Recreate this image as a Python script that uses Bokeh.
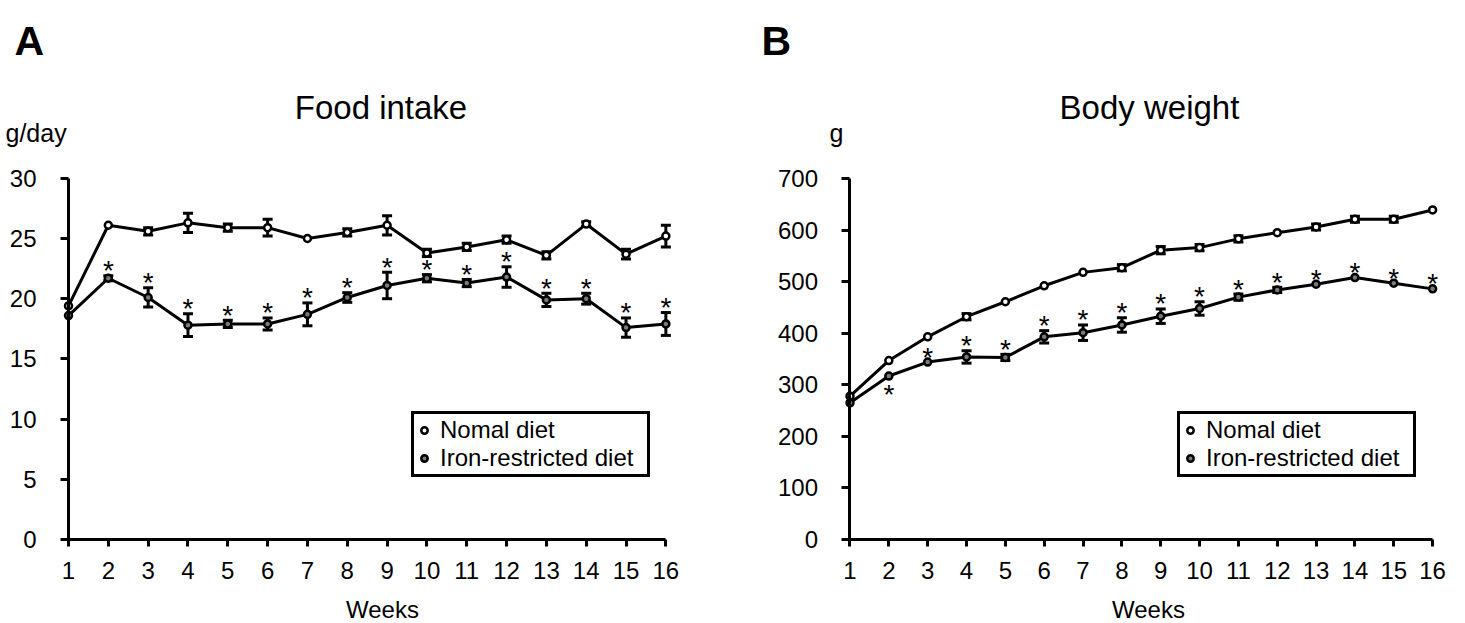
from bokeh.plotting import figure
from bokeh.models import (ColumnDataSource, Whisker, TeeHead, Legend, LegendItem,
                          Label, FixedTicker, Range1d)
from bokeh.layouts import row
from bokeh.embed import file_html
from bokeh.resources import INLINE
from bokeh.core.properties import value

FONT = "Liberation Sans"

# ---------------- data ----------------
weeks = list(range(1, 17))

# Panel A: food intake (g/day)
food_normal = [19.4, 26.1, 25.6, 26.3, 25.9, 25.9, 25.0, 25.5, 26.1, 23.8, 24.3, 24.9, 23.6, 26.2, 23.7, 25.2]
food_normal_err = [0, 0, 0.3, 0.8, 0.3, 0.7, 0, 0.3, 0.8, 0.3, 0.3, 0.3, 0.3, 0.2, 0.4, 0.9]
food_iron = [18.6, 21.7, 20.1, 17.8, 17.9, 17.9, 18.7, 20.1, 21.1, 21.7, 21.3, 21.8, 19.9, 20.0, 17.6, 17.9]
food_iron_err = [0, 0.2, 0.8, 0.95, 0.3, 0.5, 0.95, 0.4, 1.1, 0.3, 0.3, 0.85, 0.55, 0.45, 0.8, 0.95]
food_sig_above = list(range(2, 17))
food_sig_below = []
food_yticks = [0, 5, 10, 15, 20, 25, 30]

# Panel B: body weight (g)
bw_normal = [278, 347, 393, 432, 461, 492, 518, 527, 561, 566, 583, 595, 606, 621, 621, 639]
bw_normal_err = [0, 0, 0, 6, 0, 0, 0, 6, 7, 6, 6, 0, 6, 6, 6, 0]
bw_iron = [265, 317, 344, 354, 353, 393, 401, 416, 433, 448, 470, 484, 495, 508, 497, 486]
bw_iron_err = [0, 0, 0, 12, 6, 12, 15, 14, 14, 13, 6, 5, 0, 0, 0, 0]
bw_sig_above = list(range(3, 17))
bw_sig_below = [2]
bw_yticks = [0, 100, 200, 300, 400, 500, 600, 700]

series_labels = ["Nomal diet", "Iron-restricted diet"]

H = 623


def make_panel(letter, title, ylabel, normal, normal_err, iron, iron_err,
               sig_above, sig_below, yticks, geo):
    # the frame fills the whole canvas; axes sit at fixed data locations inside it
    p = figure(width=geo["w"], height=H,
               min_border_left=0, min_border_right=0, min_border_top=0, min_border_bottom=0,
               x_range=Range1d(*geo["xr"]), y_range=Range1d(*geo["yr"]),
               output_backend="svg", toolbar_location=None)
    p.title.visible = False
    p.outline_line_color = None
    p.xgrid.visible = False
    p.ygrid.visible = False
    p.background_fill_color = "white"
    p.border_fill_color = "white"

    for ax, ticks, bounds, loc, tick_out in (
            (p.xaxis[0], weeks, (weeks[0], weeks[-1]), yticks[0], 7),
            (p.yaxis[0], yticks, (yticks[0], yticks[-1]), weeks[0], 8)):
        ax.ticker = FixedTicker(ticks=ticks)
        ax.bounds = bounds
        ax.fixed_location = loc
        ax.axis_line_width = 3
        ax.axis_line_color = "black"
        ax.major_tick_line_width = 3
        ax.major_tick_line_color = "black"
        ax.major_tick_in = 0
        ax.major_tick_out = tick_out
        ax.minor_tick_line_color = None
        ax.major_label_text_font = FONT
        ax.major_label_text_font_size = "24px"
        ax.major_label_text_color = "black"
    p.xaxis[0].major_label_standoff = 16
    p.yaxis[0].major_label_standoff = 24

    # lines
    p.line(weeks, normal, line_width=3, line_color="black")
    p.line(weeks, iron, line_width=3, line_color="black")
    # markers
    rn = p.scatter(weeks, normal, size=7, marker="circle", fill_color="white",
                   line_color="black", line_width=2.5)
    ri = p.scatter(weeks, iron, size=7, marker="circle", fill_color="#7a7a7a",
                   line_color="black", line_width=2.5)

    # error bars
    for vals, errs in ((normal, normal_err), (iron, iron_err)):
        b = [w for w, e in zip(weeks, errs) if e > 0]
        up = [v + e for v, e in zip(vals, errs) if e > 0]
        lo = [v - e for v, e in zip(vals, errs) if e > 0]
        src = ColumnDataSource(dict(base=b, upper=up, lower=lo))
        wh = Whisker(source=src, base="base", upper="upper", lower="lower",
                     line_width=3, line_color="black",
                     upper_head=TeeHead(size=10, line_width=3, line_color="black"),
                     lower_head=TeeHead(size=10, line_width=3, line_color="black"))
        p.add_layout(wh)

    # significance asterisks
    ax_x = [w for w in sig_above]
    ax_y = [iron[w - 1] + iron_err[w - 1] for w in sig_above]
    p.text(ax_x, ax_y, text=["*"] * len(ax_x), text_font=value(FONT),
           text_font_size="28px", text_align="center", text_baseline="alphabetic",
           y_offset=-5, text_color="black")
    if sig_below:
        bx = [w for w in sig_below]
        by = [iron[w - 1] - iron_err[w - 1] for w in sig_below]
        p.text(bx, by, text=["*"] * len(bx), text_font=value(FONT),
               text_font_size="28px", text_align="center", text_baseline="alphabetic",
               y_offset=18, text_color="black")

    # legend
    legend = Legend(items=[LegendItem(label=series_labels[0], renderers=[rn]),
                           LegendItem(label=series_labels[1], renderers=[ri])],
                    location=geo["leg"], margin=0, padding=2, spacing=0,
                    glyph_width=16, glyph_height=16, label_standoff=8,
                    label_height=26, label_width=205,
                    label_text_font=FONT, label_text_font_size="24px",
                    label_text_color="black",
                    border_line_color="black", border_line_width=3, border_line_alpha=1.0,
                    background_fill_color="white", background_fill_alpha=1.0)
    p.add_layout(legend)

    # texts (screen units, measured from the frame's bottom-left corner)
    p.add_layout(Label(x=geo["letter"][0], y=geo["letter"][1], x_units="screen", y_units="screen",
                       text=letter, text_font=FONT, text_font_size="41px",
                       text_font_style="bold", text_baseline="alphabetic", text_color="black"))
    p.add_layout(Label(x=geo["title"][0], y=geo["title"][1], x_units="screen", y_units="screen",
                       text=title, text_font=FONT, text_font_size="33px",
                       text_align="center", text_baseline="alphabetic", text_color="black"))
    p.add_layout(Label(x=geo["ylab"][0], y=geo["ylab"][1], x_units="screen", y_units="screen",
                       text=ylabel, text_font=FONT, text_font_size="25px",
                       text_baseline="alphabetic", text_color="black"))
    p.add_layout(Label(x=geo["xlab"][0], y=geo["xlab"][1], x_units="screen", y_units="screen",
                       text="Weeks", text_font=FONT, text_font_size="24px",
                       text_align="center", text_baseline="alphabetic", text_color="black"))
    return p


geoA = dict(w=745, xr=(-0.7077, 18.0), yr=(-6.98, 44.77), leg=(411, 146),
            letter=(14, 583), title=(380.5, 516), ylab=(5, 491), xlab=(382, 14))
geoB = dict(w=720, xr=(-1.6905, 16.847), yr=(-162.9, 1045.2), leg=(432, 146),
            letter=(16, 583), title=(404, 516), ylab=(84, 491), xlab=(403, 14))

pA = make_panel("A", "Food intake", "g/day", food_normal, food_normal_err, food_iron,
                food_iron_err, food_sig_above, food_sig_below, food_yticks, geoA)
pB = make_panel("B", "Body weight", "g", bw_normal, bw_normal_err, bw_iron,
                bw_iron_err, bw_sig_above, bw_sig_below, bw_yticks, geoB)

layout = row(pA, pB)
open("out.html", "w").write(file_html(layout, INLINE))
